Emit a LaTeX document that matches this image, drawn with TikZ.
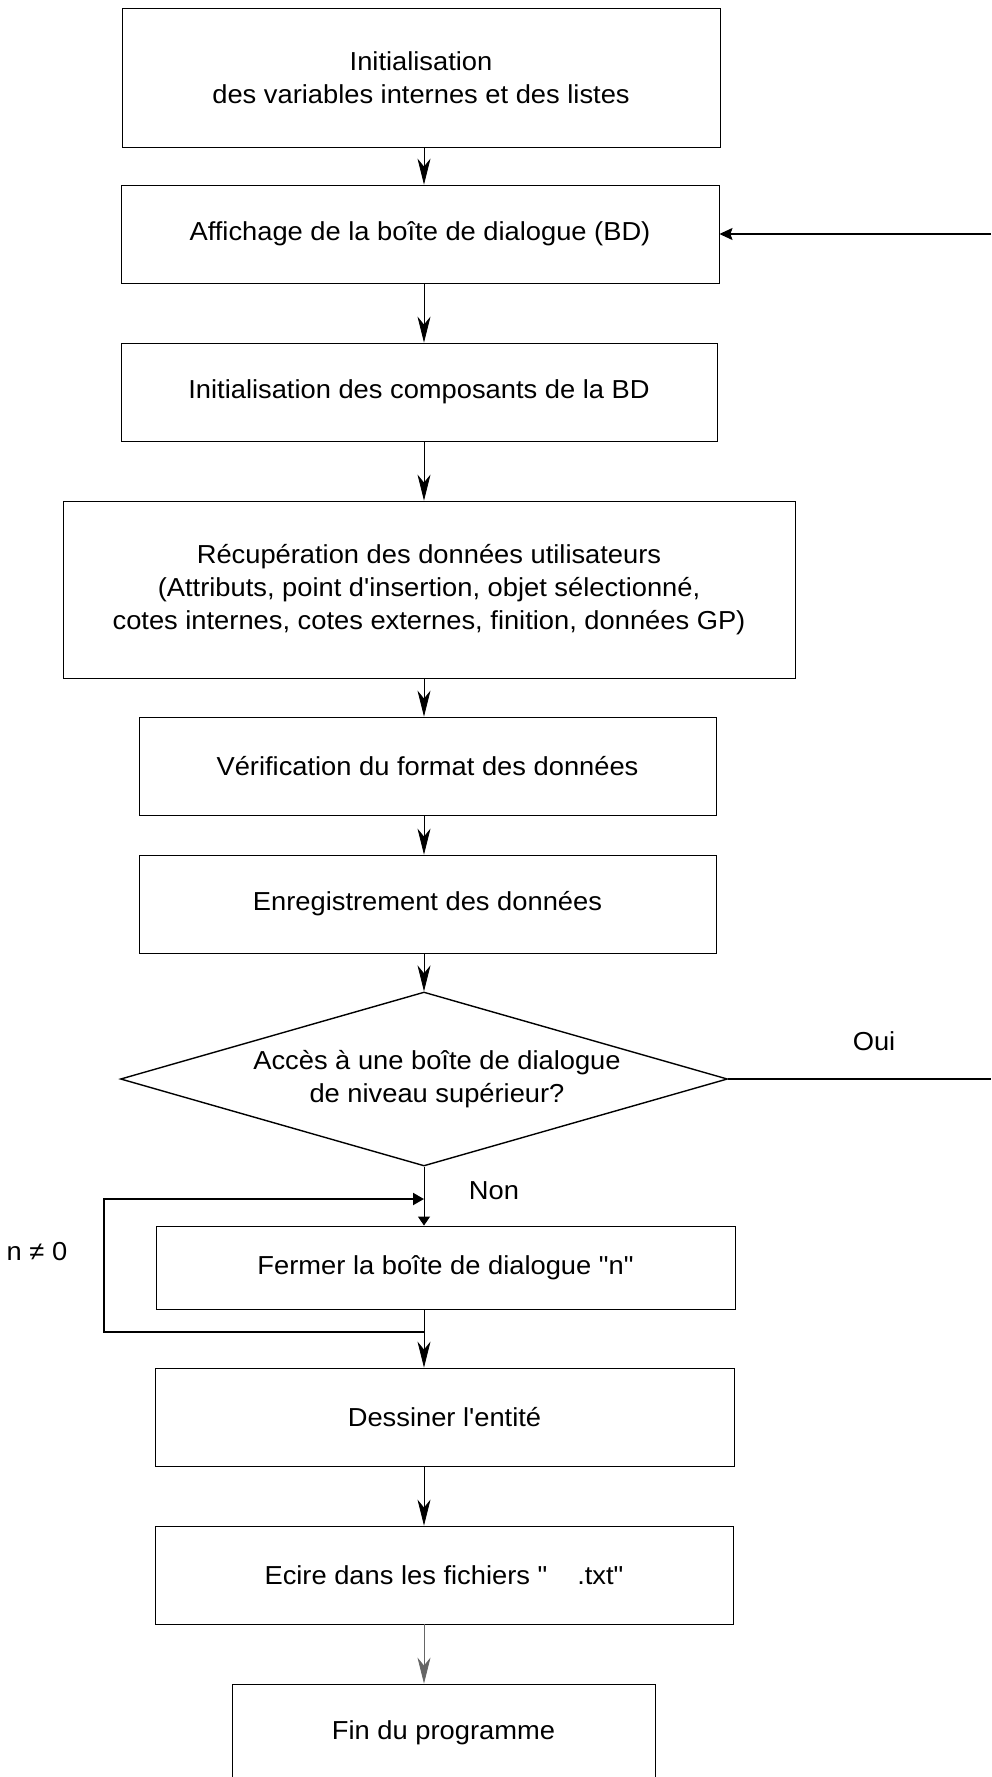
\documentclass[tikz,border=0pt]{standalone}
\usepackage{fontspec}
\newfontfamily\arialf{Liberation Sans}[FakeStretch=1.05]
\usetikzlibrary{shapes.geometric,arrows.meta}
\begin{document}
\begin{tikzpicture}[x=1pt,y=-1pt,
  txt/.style={font=\arialf\fontsize{26}{33}\selectfont},
  box/.style={txt, draw, line width=0.9pt, rectangle, inner sep=0pt, align=center},
  dec/.style={txt, draw, line width=1.4pt, diamond, aspect=3.49, inner sep=0pt, align=center},
  lbl/.style={txt, inner sep=0pt},
  arr/.style={line width=0.8pt, -{Stealth[length=26pt,width=13pt,inset=8pt]}},
  arrsmall/.style={line width=1pt, -{Triangle[length=9pt,width=12pt]}},
  arrin/.style={line width=1.2pt, -{Stealth[length=13pt,width=12pt,inset=2pt]}},
  looparr/.style={line width=2pt, -{Triangle[length=11pt,width=12pt]}},
  plain/.style={line width=1.2pt}
]
\useasboundingbox (0,0) rectangle (991,1777);
\clip (0,0) rectangle (991,1777);

\coordinate (sp) at (424,0);
\coordinate (redge) at (991,0);

\node[box, minimum width=598pt, minimum height=139pt] (b1) at (421,77.5)
  {Initialisation\\des variables internes et des listes};
\node[box, minimum width=598pt, minimum height=98pt] (b2) at (420,234)
  {Affichage de la boîte de dialogue (BD)};
\node[box, minimum width=596pt, minimum height=98pt] (b3) at (419,392)
  {Initialisation des composants de la BD};
\node[box, minimum width=732pt, minimum height=177pt] (b4) at (429,589.5)
  {Récupération des données utilisateurs\\(Attributs, point d'insertion, objet sélectionné,\\cotes internes, cotes externes, finition, données GP)};
\node[box, minimum width=577pt, minimum height=98pt] (b5) at (427.5,766)
  {Vérification du format des données};
\node[box, minimum width=577pt, minimum height=98pt] (b6) at (427.5,904)
  {Enregistrement des données};
\node[dec, minimum width=607pt, minimum height=174pt] (dia) at (424,1079)
  {\hspace*{26pt}Accès à une boîte de dialogue\\\hspace*{26pt}de niveau supérieur?};
\node[box, minimum width=579pt, minimum height=83pt] (b7) at (445.5,1267.5)
  {Fermer la boîte de dialogue "n"};
\node[box, minimum width=579pt, minimum height=98pt] (b8) at (444.5,1417)
  {Dessiner l'entité};
\node[box, minimum width=578pt, minimum height=98pt] (b9) at (444,1575)
  {Ecire dans les fichiers "\hspace{30pt}.txt"};
\node[box, minimum width=423pt, minimum height=98pt] (b10) at (443.5,1733)
  {Fin du programme};

\node[lbl] (oui) at (874,1041) {Oui};
\node[lbl] (non) at (494,1191) {Non};
\node[lbl] (neq) at (37,1252) {n ≠ 0};

\draw[arr] (b1.south -| sp) -- (b2.north -| sp);
\draw[arr] (b2.south -| sp) -- (b3.north -| sp);
\draw[arr] (b3.south -| sp) -- (b4.north -| sp);
\draw[arr] (b4.south -| sp) -- (b5.north -| sp);
\draw[arr] (b5.south -| sp) -- (b6.north -| sp);
\draw[arr] (b6.south -| sp) -- (dia.north);
\draw[arrsmall] (dia.south) -- (b7.north -| sp);
\draw[arr] (b7.south -| sp) -- (b8.north -| sp);
\draw[arr] (b8.south -| sp) -- (b9.north -| sp);
\draw[arr, draw=black!60] (b9.south -| sp) -- (b10.north -| sp);

\draw[plain] (dia.east) -- (dia.east -| redge);
\draw[arrin] (b2.east -| redge) -- (b2.east);

\coordinate (jb) at (424,1332);
\coordinate (lb) at (104,1332);
\coordinate (lt) at (104,1199);
\coordinate (jt) at (424,1199);
\draw[looparr] (jb) -- (lb) -- (lt) -- (jt);
\end{tikzpicture}
\end{document}
